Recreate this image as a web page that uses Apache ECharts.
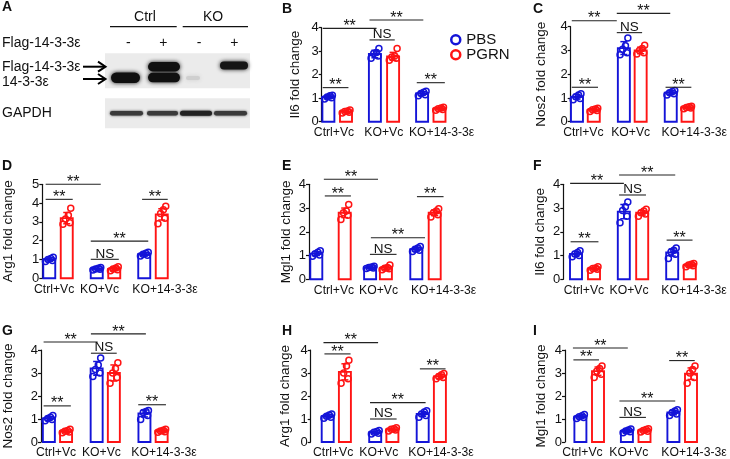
<!DOCTYPE html>
<html><head><meta charset="utf-8">
<script src="https://cdn.jsdelivr.net/npm/echarts@6/dist/echarts.min.js"></script>
<style>html,body{margin:0;padding:0;background:#fff}#c{width:730px;height:459px}</style>
</head><body><div id="c"></div>
<script>
// ---------- DATA ----------
const groups = ['Ctrl+Vc', 'KO+Vc', 'KO+14-3-3ε'];
const treatments = ['PBS', 'PGRN'];
const yTicksMax = { B: 4, C: 4, D: 5, E: 4, F: 4, G: 4, H: 4, I: 4 };
const yNames = { B: 'Il6 fold change', C: 'Nos2 fold change', D: 'Arg1 fold change', E: 'Mgl1 fold change',
                 F: 'Il6 fold change', G: 'Nos2 fold change', H: 'Arg1 fold change', I: 'Mgl1 fold change' };

// Panel B – Il6
const B_pbsMean = [1.05, 2.88, 1.20];
const B_pbsSD = [0.07, 0.16, 0.08];
const B_pgrnMean = [0.43, 2.78, 0.55];
const B_pgrnSD = [0.05, 0.17, 0.05];
const B_pbsPts = [[0.97, 1.02, 1.05, 1.10, 1.13], [2.70, 2.80, 2.90, 2.95, 3.12], [1.10, 1.15, 1.20, 1.25, 1.30]];
const B_pgrnPts = [[0.37, 0.40, 0.43, 0.46, 0.50], [2.62, 2.70, 2.75, 2.80, 3.12], [0.49, 0.52, 0.55, 0.58, 0.62]];
// Panel C – Nos2
const C_pbsMean = [1.05, 3.10, 1.22];
const C_pbsSD = [0.10, 0.27, 0.08];
const C_pgrnMean = [0.50, 3.00, 0.60];
const C_pgrnSD = [0.05, 0.14, 0.05];
const C_pbsPts = [[0.92, 0.98, 1.05, 1.12, 1.18], [2.82, 2.90, 3.05, 3.20, 3.52], [1.12, 1.18, 1.22, 1.27, 1.31]];
const C_pgrnPts = [[0.43, 0.47, 0.50, 0.53, 0.57], [2.85, 2.90, 3.00, 3.08, 3.22], [0.55, 0.58, 0.60, 0.63, 0.65]];
// Panel D – Arg1
const D_pbsMean = [1.00, 0.50, 1.28];
const D_pbsSD = [0.08, 0.05, 0.08];
const D_pgrnMean = [3.20, 0.50, 3.40];
const D_pgrnSD = [0.30, 0.07, 0.30];
const D_pbsPts = [[0.90, 0.95, 1.00, 1.05, 1.12], [0.44, 0.48, 0.50, 0.53, 0.57], [1.18, 1.22, 1.28, 1.33, 1.38]];
const D_pgrnPts = [[2.88, 2.95, 3.15, 3.35, 3.72], [0.40, 0.45, 0.50, 0.55, 0.62], [2.90, 3.20, 3.45, 3.65, 3.83]];
// Panel E – Mgl1
const E_pbsMean = [1.08, 0.50, 1.27];
const E_pbsSD = [0.08, 0.04, 0.08];
const E_pgrnMean = [2.80, 0.48, 2.80];
const E_pgrnSD = [0.20, 0.07, 0.12];
const E_pbsPts = [[0.97, 1.02, 1.08, 1.14, 1.20], [0.45, 0.48, 0.50, 0.52, 0.55], [1.17, 1.22, 1.27, 1.32, 1.38]];
const E_pgrnPts = [[2.52, 2.70, 2.80, 2.88, 3.15], [0.40, 0.44, 0.47, 0.50, 0.60], [2.62, 2.72, 2.80, 2.88, 2.97]];
// Panel F – Il6
const F_pbsMean = [1.07, 2.85, 1.13];
const F_pbsSD = [0.10, 0.30, 0.15];
const F_pgrnMean = [0.45, 2.80, 0.60];
const F_pgrnSD = [0.05, 0.10, 0.05];
const F_pbsPts = [[0.95, 1.00, 1.07, 1.13, 1.20], [2.38, 2.65, 2.90, 3.05, 3.25], [0.88, 1.05, 1.15, 1.22, 1.32]];
const F_pgrnPts = [[0.38, 0.42, 0.45, 0.48, 0.53], [2.65, 2.75, 2.80, 2.88, 2.95], [0.53, 0.57, 0.60, 0.63, 0.67]];
// Panel G – Nos2
const G_pbsMean = [1.02, 3.20, 1.24];
const G_pbsSD = [0.08, 0.30, 0.15];
const G_pgrnMean = [0.47, 3.00, 0.48];
const G_pgrnSD = [0.05, 0.35, 0.05];
const G_pbsPts = [[0.92, 0.98, 1.02, 1.08, 1.15], [2.85, 3.00, 3.15, 3.35, 3.65], [0.98, 1.15, 1.28, 1.33, 1.37]];
const G_pgrnPts = [[0.40, 0.44, 0.47, 0.50, 0.55], [2.55, 2.80, 3.00, 3.20, 3.45], [0.42, 0.45, 0.48, 0.51, 0.55]];
// Panel H – Arg1
const H_pbsMean = [1.12, 0.42, 1.22];
const H_pbsSD = [0.07, 0.05, 0.10];
const H_pgrnMean = [3.05, 0.55, 2.85];
const H_pgrnSD = [0.35, 0.05, 0.10];
const H_pbsPts = [[1.03, 1.08, 1.12, 1.17, 1.22], [0.35, 0.38, 0.42, 0.46, 0.50], [1.08, 1.15, 1.22, 1.30, 1.36]];
const H_pgrnPts = [[2.55, 2.75, 3.00, 3.30, 3.55], [0.48, 0.52, 0.55, 0.58, 0.62], [2.75, 2.80, 2.85, 2.92, 2.98]];
// Panel I – Mgl1
const I_pbsMean = [1.10, 0.48, 1.28];
const I_pbsSD = [0.06, 0.06, 0.10];
const I_pgrnMean = [3.08, 0.50, 2.97];
const I_pgrnSD = [0.18, 0.06, 0.25];
const I_pbsPts = [[1.02, 1.06, 1.10, 1.14, 1.20], [0.40, 0.45, 0.48, 0.52, 0.57], [1.15, 1.22, 1.28, 1.35, 1.40]];
const I_pgrnPts = [[2.80, 2.95, 3.08, 3.20, 3.30], [0.43, 0.47, 0.50, 0.54, 0.58], [2.55, 2.80, 3.00, 3.15, 3.30]];

// ---------- LAYOUT (pixels / annotation positions) ----------
const BLUE = '#1414d8', RED = '#ff1414', INK = '#111';
const FONT = '"Liberation Sans", Arial, Helvetica, sans-serif';
// brackets: [x1, x2, y(value), text] in category units / axis values
const layout = {
  B: { axisX: 321.7, c0: 337.2, sp: 46.8, top: 27.7, bot: 121.7, off: [8.8, 9.1, 8.7], nameGap: 19, lab: [334, 383.8, 441.6],
       br: [[-0.31, 0.84, 3.97, '**'], [0.69, 1.84, 4.33, '**'], [0.69, 1.23, 3.48, 'NS'], [-0.31, 0.24, 1.45, '**'], [1.70, 2.30, 1.66, '**']] },
  C: { axisX: 570.7, c0: 585.8, sp: 48.3, top: 26.7, bot: 121.7, off: [8.4, 8.4, 8.4], nameGap: 22, lab: [583.7, 632.5, 698],
       br: [[-0.29, 0.67, 4.25, '**'], [0.67, 1.81, 4.56, '**'], [0.67, 1.21, 3.75, 'NS'], [-0.29, 0.27, 1.45, '**'], [1.71, 2.26, 1.45, '**']] },
  D: { axisX: 42.3, c0: 58, sp: 47.5, top: 184.3, bot: 278.3, off: [8.75, 8.75, 8.75], nameGap: 27, lab: [54.2, 99.5, 165],
       br: [[-0.26, 0.90, 5.0, '**'], [-0.26, 0.31, 4.2, '**'], [0.69, 1.28, 1.01, 'NS'], [0.69, 1.90, 1.98, '**'], [1.77, 2.31, 4.2, '**']] },
  E: { axisX: 309, c0: 330.5, sp: 47.5, top: 184.3, bot: 279.3, off: [14.2, 7.9, 9.2], nameGap: 16, lab: [334, 378.5, 443.6],
       br: [[-0.14, 1.00, 4.21, '**'], [-0.12, 0.43, 3.51, '**'], [0.83, 1.39, 1.05, 'NS'], [0.85, 1.99, 1.75, '**'], [1.82, 2.38, 3.48, '**']] },
  F: { axisX: 563.3, c0: 585, sp: 48, top: 184.3, bot: 279.3, off: [9, 9.2, 8.8], nameGap: 16, lab: [584, 629, 694],
       br: [[-0.31, 0.81, 4.04, '**'], [0.71, 1.88, 4.39, '**'], [0.71, 1.27, 3.55, 'NS'], [-0.30, 0.28, 1.58, '**'], [1.70, 2.24, 1.65, '**']] },
  G: { axisX: 40.7, c0: 57.2, sp: 47.9, top: 350, bot: 444.3, off: [8.6, 8.6, 8.6], nameGap: 26, lab: [55.8, 101.3, 164],
       br: [[-0.29, 0.84, 4.35, '**'], [0.70, 1.85, 4.70, '**'], [0.70, 1.24, 3.86, 'NS'], [-0.29, 0.28, 1.57, '**'], [1.69, 2.27, 1.62, '**']] },
  H: { axisX: 310.7, c0: 336.3, sp: 47.5, top: 350, bot: 444.3, off: [8.6, 8.6, 8.6], nameGap: 18, lab: [333.2, 378.8, 441],
       br: [[-0.27, 0.88, 4.32, '**'], [-0.25, 0.30, 3.83, '**'], [0.71, 1.27, 1.00, 'NS'], [0.71, 1.88, 1.71, '**'], [1.76, 2.30, 3.18, '**']] },
  I: { axisX: 565, c0: 589.2, sp: 46.5, top: 350, bot: 444.3, off: [8.8, 8.8, 8.8], nameGap: 17, lab: [582.5, 628.8, 694],
       br: [[-0.35, 0.83, 4.09, '**'], [-0.34, 0.21, 3.57, '**'], [0.65, 1.22, 1.07, 'NS'], [0.65, 1.85, 1.78, '**'], [1.72, 2.27, 3.54, '**']] }
};
const panelData = {
  B: [[B_pbsMean, B_pbsSD, B_pbsPts], [B_pgrnMean, B_pgrnSD, B_pgrnPts]],
  C: [[C_pbsMean, C_pbsSD, C_pbsPts], [C_pgrnMean, C_pgrnSD, C_pgrnPts]],
  D: [[D_pbsMean, D_pbsSD, D_pbsPts], [D_pgrnMean, D_pgrnSD, D_pgrnPts]],
  E: [[E_pbsMean, E_pbsSD, E_pbsPts], [E_pgrnMean, E_pgrnSD, E_pgrnPts]],
  F: [[F_pbsMean, F_pbsSD, F_pbsPts], [F_pgrnMean, F_pgrnSD, F_pgrnPts]],
  G: [[G_pbsMean, G_pbsSD, G_pbsPts], [G_pgrnMean, G_pgrnSD, G_pgrnPts]],
  H: [[H_pbsMean, H_pbsSD, H_pbsPts], [H_pgrnMean, H_pgrnSD, H_pgrnPts]],
  I: [[I_pbsMean, I_pbsSD, I_pbsPts], [I_pgrnMean, I_pgrnSD, I_pgrnPts]]
};
const jitter = [-3.8, 3.2, -1.2, 1.6, 4.0, -2.6];
const letterPos = { A: [2, 2], B: [282, 4], C: [533, 4], D: [2, 161], E: [282, 161], F: [533, 161], G: [2, 326], H: [282, 326], I: [533, 326] };

// ---------- BUILD ----------
const grids = [], xAxes = [], yAxes = [], series = [];
const colors = [BLUE, RED];

Object.keys(layout).forEach((id, pi) => {
  const L = layout[id];
  const ymax = yTicksMax[id];
  const xMin = (L.axisX - L.c0) / L.sp, xMax = 2.45;
  const labU = L.lab.map(p => (p - L.c0) / L.sp);
  grids.push({ left: L.axisX, top: L.top, width: (xMax - xMin) * L.sp, height: L.bot - L.top, containLabel: false });
  xAxes.push({
    gridIndex: pi, type: 'value', min: xMin, max: xMax,
    axisLine: { show: false, onZero: false }, axisTick: { show: false }, splitLine: { show: false },
    axisLabel: { customValues: labU, formatter: (v, i) => { let k = labU.findIndex(u => Math.abs(u - v) < 1e-6); return groups[k >= 0 ? k : i]; },
                 margin: 5, fontSize: 12.2, color: INK, fontFamily: FONT }
  });
  yAxes.push({
    gridIndex: pi, type: 'value', min: 0, max: ymax, interval: 1,
    name: yNames[id], nameLocation: 'middle', nameGap: L.nameGap,
    nameTextStyle: { fontSize: 13.5, color: INK, fontFamily: FONT },
    axisLine: { show: true, onZero: false, lineStyle: { color: INK, width: 1.2 } },
    axisTick: { show: true, length: 3, lineStyle: { color: INK, width: 1.2 } },
    axisLabel: { margin: 3, fontSize: 13, color: INK, fontFamily: FONT },
    splitLine: { show: false }
  });
  panelData[id].forEach((d, s) => {
    const [mean, sd, pts] = d;
    const color = colors[s];
    const sign = s === 0 ? -1 : 1;
    series.push({
      type: 'custom', name: treatments[s], xAxisIndex: pi, yAxisIndex: pi, clip: false,
      data: groups.map((g, gi) => [gi, mean[gi], sd[gi]]),
      renderItem: (params, api) => {
        const g = api.value(0), m = api.value(1), e = api.value(2);
        const base = api.coord([g, 0]);
        const cx = base[0] + sign * L.off[g];
        const ym = api.coord([g, m])[1], yh = api.coord([g, m + e])[1], yl = api.coord([g, m - e])[1];
        const w = 12;
        return { type: 'group', children: [
          { type: 'rect', shape: { x: cx - w / 2, y: ym, width: w, height: base[1] - ym }, style: { fill: '#fff', stroke: color, lineWidth: 1.9 } },
          { type: 'line', shape: { x1: cx, y1: yl, x2: cx, y2: yh }, style: { stroke: color, lineWidth: 1.5 } },
          { type: 'line', shape: { x1: cx - 3.5, y1: yh, x2: cx + 3.5, y2: yh }, style: { stroke: color, lineWidth: 1.5 } },
          { type: 'line', shape: { x1: cx - 3.5, y1: yl, x2: cx + 3.5, y2: yl }, style: { stroke: color, lineWidth: 1.5 } }
        ] };
      }
    });
    const ptData = [];
    pts.forEach((arr, gi) => arr.forEach((v, k) => ptData.push([gi, v, k])));
    series.push({
      type: 'custom', name: treatments[s], xAxisIndex: pi, yAxisIndex: pi, clip: false, z: 3,
      data: ptData,
      renderItem: (params, api) => {
        const g = api.value(0), v = api.value(1), k = api.value(2);
        const p = api.coord([g, v]);
        const cx = p[0] + sign * L.off[g] + jitter[k % jitter.length];
        return { type: 'circle', shape: { cx: cx, cy: p[1], r: 3 }, style: { fill: 'rgba(255,255,255,0)', stroke: color, lineWidth: 1.5 } };
      }
    });
  });
  series.push({
    type: 'custom', xAxisIndex: pi, yAxisIndex: pi, clip: false, z: 4,
    data: L.br.map((b, i) => [b[0], b[2], i]),
    renderItem: (params, api) => {
      const b = L.br[api.value(2)];
      const p1 = api.coord([b[0], b[2]]), p2 = api.coord([b[1], b[2]]);
      const star = b[3] === '**';
      return { type: 'group', children: [
        { type: 'line', shape: { x1: p1[0], y1: p1[1], x2: p2[0], y2: p2[1] }, style: { stroke: '#222', lineWidth: 1.1 } },
        { type: 'text', style: { text: b[3], x: (p1[0] + p2[0]) / 2, y: p1[1] - (star ? 1.8 : 5.5), align: 'center', verticalAlign: 'middle',
                                 font: (star ? '16px ' : '13.5px ') + FONT, fill: INK } }
      ] };
    }
  });
});

// ---------- Panel A (blot) & panel letters ----------
const T = (text, x, y, size, opts) => Object.assign({ type: 'text', x: x, y: y,
  style: { text: text, font: (opts && opts.bold ? 'bold ' : '') + size + 'px ' + FONT, fill: INK,
           textAlign: (opts && opts.align) || 'left', align: (opts && opts.align) || 'left',
           textVerticalAlign: 'middle', verticalAlign: 'middle' } });
const band = (x, y, w, h, c, blur) => ({ type: 'rect', shape: { x: x, y: y, width: w, height: h, r: h / 2 },
  style: { fill: c, shadowBlur: blur, shadowColor: c } });
const graphics = [];
Object.keys(letterPos).forEach(k => graphics.push(T(k, letterPos[k][0], letterPos[k][1] + 5, 14, { bold: true })));
graphics.push(
  T('Ctrl', 145, 16.7, 14, { align: 'center' }), T('KO', 213, 16.7, 14, { align: 'center' }),
  { type: 'line', shape: { x1: 110, y1: 26.7, x2: 176.7, y2: 26.7 }, style: { stroke: INK, lineWidth: 1.2 } },
  { type: 'line', shape: { x1: 182.7, y1: 26.7, x2: 248, y2: 26.7 }, style: { stroke: INK, lineWidth: 1.2 } },
  T('Flag-14-3-3ε', 2, 42.7, 14), T('-', 128.3, 42.7, 14, { align: 'center' }), T('+', 163.3, 42.7, 14, { align: 'center' }),
  T('-', 199, 42.7, 14, { align: 'center' }), T('+', 234.3, 42.7, 14, { align: 'center' }),
  T('Flag-14-3-3ε', 2, 66.7, 14), T('14-3-3ε', 2, 81.7, 14), T('GAPDH', 2, 113.3, 14),
  { type: 'rect', shape: { x: 105, y: 53.3, width: 145, height: 35 }, style: { fill: '#ebebeb' } },
  { type: 'rect', shape: { x: 105, y: 98.3, width: 145, height: 30 }, style: { fill: '#ebebeb' } },
  band(111, 72.5, 29, 10.5, '#101010', 4),
  band(148, 62, 32, 9.5, '#101010', 4), band(148, 72.8, 32, 9.5, '#101010', 4),
  band(186, 76, 14, 4, '#cfcfcf', 4),
  band(220, 61.5, 28, 8, '#151515', 4),
  band(110, 111, 33, 4.5, '#3a3a3a', 2.5), band(147, 111, 31, 4.5, '#3a3a3a', 2.5),
  band(180, 110.8, 32, 5, '#222', 2.5), band(214, 111, 33, 4.5, '#3a3a3a', 2.5),
  { type: 'line', shape: { x1: 83, y1: 66.7, x2: 105, y2: 66.7 }, style: { stroke: '#000', lineWidth: 2 } },
  { type: 'polyline', shape: { points: [[98, 61.7], [105.5, 66.7], [98, 71.7]] }, style: { stroke: '#000', lineWidth: 2, fill: null } },
  { type: 'line', shape: { x1: 83, y1: 79, x2: 105, y2: 79 }, style: { stroke: '#000', lineWidth: 2 } },
  { type: 'polyline', shape: { points: [[98, 74], [105.5, 79], [98, 84]] }, style: { stroke: '#000', lineWidth: 2, fill: null } }
);

const chart = echarts.init(document.getElementById('c'), null, { renderer: 'canvas' });
chart.setOption({
  animation: false,
  backgroundColor: '#fff',
  textStyle: { fontFamily: FONT },
  legend: {
    left: 445, top: 27.3, orient: 'vertical', itemWidth: 11, itemHeight: 9, itemGap: 0, icon: 'circle', selectedMode: false,
    textStyle: { fontSize: 15, color: INK, fontFamily: FONT, lineHeight: 14 },
    data: [
      { name: 'PBS', itemStyle: { color: '#fff', borderColor: BLUE, borderWidth: 2.5 } },
      { name: 'PGRN', itemStyle: { color: '#fff', borderColor: RED, borderWidth: 2.5 } }
    ]
  },
  grid: grids, xAxis: xAxes, yAxis: yAxes, series: series,
  graphic: { elements: graphics }
});
</script></body></html>
